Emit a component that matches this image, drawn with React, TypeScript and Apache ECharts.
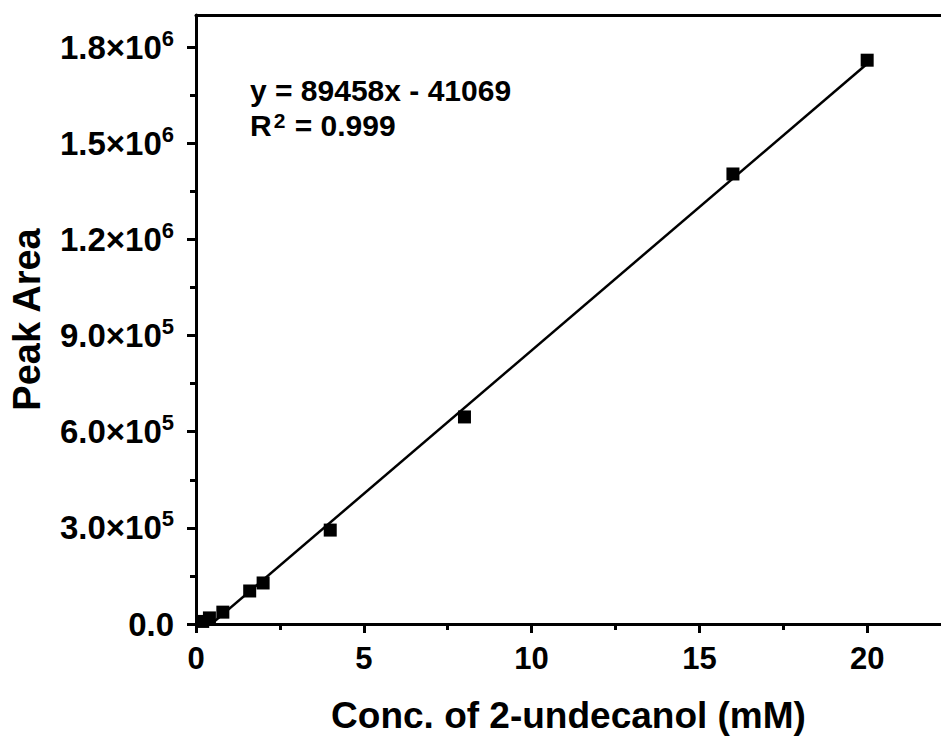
import React, { useEffect, useRef } from "react";
import * as echarts from "echarts";

const concentrations = [0.2, 0.4, 0.8, 1.6, 2, 4, 8, 16, 20];
const peakAreas = [8000, 19000, 37000, 103000, 128000, 293000, 646000, 1404000, 1759000];
const fitSlope = 89458;
const fitIntercept = -41069;
const fitRange = [0.2, 20];
const xMajorTicks = [0, 5, 10, 15, 20];
const xMinorTicks = [2.5, 7.5, 12.5, 17.5];
const yMajorTicks = [0, 300000, 600000, 900000, 1200000, 1500000, 1800000];
const yMinorTicks = [150000, 450000, 750000, 1050000, 1350000, 1650000];
const equationText = "y = 89458x - 41069";
const r2Value = "0.999";

const FONT = "'Liberation Sans', Arial, sans-serif";

function yLabel(v: number): string {
  if (v === 0) return "{a|0.0}";
  const exp = Math.floor(Math.log10(v) + 1e-9);
  const mant = v / Math.pow(10, exp);
  return `{a|${mant.toFixed(1)}×10}{s|${exp}}`;
}

export default function App() {
  const ref = useRef<HTMLDivElement>(null);
  useEffect(() => {
    if (!ref.current) return;
    const chart = echarts.init(ref.current, null, { renderer: "svg" });
    const points = concentrations.map((c, i) => [c, peakAreas[i]]);
    const fitLine = fitRange.map((x) => [x, fitSlope * x + fitIntercept]);
    const xMin = 0, xMax = 22.2, yMin = 0, yMax = 1900000;
    const axisLine = { show: true, lineStyle: { color: "#000", width: 3 } };
    chart.setOption({
      animation: false,
      backgroundColor: "#fff",
      grid: { left: 195, top: 15, right: 0, bottom: 116, containLabel: false },
      xAxis: [
        {
          type: "value", position: "bottom", min: xMin, max: xMax,
          axisLine,
          axisTick: { show: true, inside: false, length: 9, lineStyle: { width: 3, color: "#000" }, customValues: xMajorTicks },
          axisLabel: { customValues: xMajorTicks, margin: 19, fontSize: 31, fontWeight: "bold", fontFamily: FONT, color: "#000" },
          splitLine: { show: false },
          name: "Conc. of 2-undecanol (mM)", nameLocation: "middle", nameGap: 73,
          nameTextStyle: { fontSize: 37, fontWeight: "bold", fontFamily: FONT, color: "#000" },
        },
        {
          type: "value", position: "bottom", min: xMin, max: xMax,
          axisLine: { show: false },
          axisTick: { show: true, inside: false, length: 6, lineStyle: { width: 3, color: "#000" }, customValues: xMinorTicks },
          axisLabel: { show: false },
          splitLine: { show: false },
        },
        {
          type: "value", position: "top", min: xMin, max: xMax,
          axisLine,
          axisTick: { show: false }, axisLabel: { show: false }, splitLine: { show: false },
        },
      ],
      yAxis: [
        {
          type: "value", position: "left", min: yMin, max: yMax,
          axisLine,
          axisTick: { show: true, inside: false, length: 9, lineStyle: { width: 3, color: "#000" }, customValues: yMajorTicks },
          axisLabel: {
            customValues: yMajorTicks, margin: 22, formatter: (v: number) => yLabel(v),
            rich: {
              a: { fontSize: 33, fontWeight: "bold", fontFamily: FONT, color: "#000" },
              s: { fontSize: 22, fontWeight: "bold", fontFamily: FONT, color: "#000", padding: [0, 0, 18, 0] },
            },
          },
          splitLine: { show: false },
          name: "Peak Area", nameLocation: "middle", nameGap: 150,
          nameTextStyle: { fontSize: 38, fontWeight: "bold", fontFamily: FONT, color: "#000" },
        },
        {
          type: "value", position: "left", min: yMin, max: yMax,
          axisLine: { show: false },
          axisTick: { show: true, inside: false, length: 6, lineStyle: { width: 3, color: "#000" }, customValues: yMinorTicks },
          axisLabel: { show: false },
          splitLine: { show: false },
        },
      ],
      series: [
        {
          type: "line", data: fitLine, xAxisIndex: 0, yAxisIndex: 0,
          showSymbol: false, symbol: "none", clip: true,
          lineStyle: { color: "#000", width: 2.5 }, z: 2,
        },
        {
          type: "scatter", data: points, xAxisIndex: 0, yAxisIndex: 0,
          symbol: "rect", symbolSize: 13, itemStyle: { color: "#000", opacity: 1 }, z: 3,
        },
      ],
      graphic: [
        {
          type: "text", left: 250, top: 75,
          style: { text: equationText, fontSize: 30, fontWeight: "bold", fontFamily: FONT, fill: "#000" },
        },
        {
          type: "text", left: 250, top: 110,
          style: {
            text: `{a|R}{s|2}{a| = ${r2Value}}`,
            rich: {
              a: { fontSize: 30, fontWeight: "bold", fontFamily: FONT, fill: "#000" },
              s: { fontSize: 21, fontWeight: "bold", fontFamily: FONT, fill: "#000", padding: [0, 1, 10, 2] },
            },
          },
        },
      ],
    });
    return () => chart.dispose();
  }, []);
  return <div ref={ref} style={{ position: "fixed", left: 0, top: 0, width: 941, height: 740 }} />;
}
